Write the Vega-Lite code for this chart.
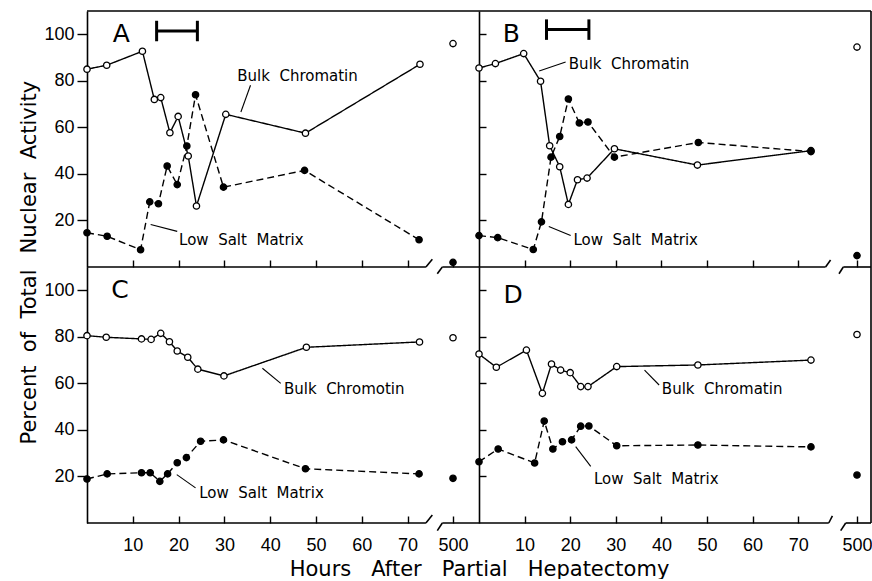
{
  "$schema": "https://vega.github.io/schema/vega-lite/v6.json",
  "background": "white",
  "padding": {"left": 18, "top": 10, "right": 0, "bottom": 0},
  "config": {
    "font": "DejaVu Sans",
    "view": {"stroke": null},
    "axis": {
      "domainColor": "black", "domainWidth": 1.6,
      "tickColor": "black", "tickWidth": 1.4,
      "labelColor": "black", "titleColor": "black",
      "labelFont": "Liberation Sans", "labelFontSize": 18,
      "titleFont": "DejaVu Sans", "titleFontWeight": "normal",
      "grid": false, "labelOverlap": false, "labelFlush": false
    }
  },
  "datasets": {
    "points": [
      {"panel": "A", "series": "Bulk Chromatin", "hour": 0, "value": 85},
      {"panel": "A", "series": "Bulk Chromatin", "hour": 4.3, "value": 86.7},
      {"panel": "A", "series": "Bulk Chromatin", "hour": 12.1, "value": 92.7},
      {"panel": "A", "series": "Bulk Chromatin", "hour": 14.7, "value": 72},
      {"panel": "A", "series": "Bulk Chromatin", "hour": 16.1, "value": 72.8},
      {"panel": "A", "series": "Bulk Chromatin", "hour": 18.1, "value": 57.7},
      {"panel": "A", "series": "Bulk Chromatin", "hour": 19.9, "value": 64.7},
      {"panel": "A", "series": "Bulk Chromatin", "hour": 22.1, "value": 47.7},
      {"panel": "A", "series": "Bulk Chromatin", "hour": 23.9, "value": 26.2},
      {"panel": "A", "series": "Bulk Chromatin", "hour": 30.3, "value": 65.6},
      {"panel": "A", "series": "Bulk Chromatin", "hour": 47.7, "value": 57.5},
      {"panel": "A", "series": "Bulk Chromatin", "hour": 72.7, "value": 87.1},
      {"panel": "A", "series": "Bulk Chromatin", "hour": 500, "value": 96},
      {"panel": "A", "series": "Low Salt Matrix", "hour": 0, "value": 14.7},
      {"panel": "A", "series": "Low Salt Matrix", "hour": 4.4, "value": 13.2},
      {"panel": "A", "series": "Low Salt Matrix", "hour": 11.7, "value": 7.4},
      {"panel": "A", "series": "Low Salt Matrix", "hour": 13.7, "value": 28},
      {"panel": "A", "series": "Low Salt Matrix", "hour": 15.6, "value": 27.2},
      {"panel": "A", "series": "Low Salt Matrix", "hour": 17.5, "value": 43.4},
      {"panel": "A", "series": "Low Salt Matrix", "hour": 19.7, "value": 35.4},
      {"panel": "A", "series": "Low Salt Matrix", "hour": 21.8, "value": 52},
      {"panel": "A", "series": "Low Salt Matrix", "hour": 23.7, "value": 74},
      {"panel": "A", "series": "Low Salt Matrix", "hour": 29.8, "value": 34.3},
      {"panel": "A", "series": "Low Salt Matrix", "hour": 47.5, "value": 41.5},
      {"panel": "A", "series": "Low Salt Matrix", "hour": 72.5, "value": 11.7},
      {"panel": "A", "series": "Low Salt Matrix", "hour": 500, "value": 2},
      {"panel": "B", "series": "Bulk Chromatin", "hour": 0, "value": 85.5},
      {"panel": "B", "series": "Bulk Chromatin", "hour": 3.6, "value": 87.4},
      {"panel": "B", "series": "Bulk Chromatin", "hour": 9.8, "value": 91.7},
      {"panel": "B", "series": "Bulk Chromatin", "hour": 13.5, "value": 79.8},
      {"panel": "B", "series": "Bulk Chromatin", "hour": 15.5, "value": 52.1},
      {"panel": "B", "series": "Bulk Chromatin", "hour": 17.7, "value": 43.1},
      {"panel": "B", "series": "Bulk Chromatin", "hour": 19.6, "value": 26.9},
      {"panel": "B", "series": "Bulk Chromatin", "hour": 21.6, "value": 37.5},
      {"panel": "B", "series": "Bulk Chromatin", "hour": 23.7, "value": 38.2},
      {"panel": "B", "series": "Bulk Chromatin", "hour": 29.7, "value": 50.8},
      {"panel": "B", "series": "Bulk Chromatin", "hour": 47.9, "value": 43.8},
      {"panel": "B", "series": "Bulk Chromatin", "hour": 72.8, "value": 50},
      {"panel": "B", "series": "Bulk Chromatin", "hour": 500, "value": 94.5},
      {"panel": "B", "series": "Low Salt Matrix", "hour": 0, "value": 13.5},
      {"panel": "B", "series": "Low Salt Matrix", "hour": 4.1, "value": 12.6},
      {"panel": "B", "series": "Low Salt Matrix", "hour": 11.9, "value": 7.5},
      {"panel": "B", "series": "Low Salt Matrix", "hour": 13.7, "value": 19.4},
      {"panel": "B", "series": "Low Salt Matrix", "hour": 15.8, "value": 47.2},
      {"panel": "B", "series": "Low Salt Matrix", "hour": 17.7, "value": 56.1},
      {"panel": "B", "series": "Low Salt Matrix", "hour": 19.6, "value": 72.2},
      {"panel": "B", "series": "Low Salt Matrix", "hour": 22, "value": 61.9},
      {"panel": "B", "series": "Low Salt Matrix", "hour": 23.9, "value": 62.3},
      {"panel": "B", "series": "Low Salt Matrix", "hour": 29.7, "value": 47.2},
      {"panel": "B", "series": "Low Salt Matrix", "hour": 48.1, "value": 53.5},
      {"panel": "B", "series": "Low Salt Matrix", "hour": 72.8, "value": 49.6},
      {"panel": "B", "series": "Low Salt Matrix", "hour": 500, "value": 4.9},
      {"panel": "C", "series": "Bulk Chromatin", "hour": 0, "value": 80.5},
      {"panel": "C", "series": "Bulk Chromatin", "hour": 4.2, "value": 79.8},
      {"panel": "C", "series": "Bulk Chromatin", "hour": 11.9, "value": 79.1},
      {"panel": "C", "series": "Bulk Chromatin", "hour": 14, "value": 78.9},
      {"panel": "C", "series": "Bulk Chromatin", "hour": 16.1, "value": 81.5},
      {"panel": "C", "series": "Bulk Chromatin", "hour": 18, "value": 77.9},
      {"panel": "C", "series": "Bulk Chromatin", "hour": 19.7, "value": 73.9},
      {"panel": "C", "series": "Bulk Chromatin", "hour": 22, "value": 71.2},
      {"panel": "C", "series": "Bulk Chromatin", "hour": 24.2, "value": 66.1},
      {"panel": "C", "series": "Bulk Chromatin", "hour": 29.9, "value": 63.2},
      {"panel": "C", "series": "Bulk Chromatin", "hour": 47.9, "value": 75.5},
      {"panel": "C", "series": "Bulk Chromatin", "hour": 72.6, "value": 77.8},
      {"panel": "C", "series": "Bulk Chromatin", "hour": 500, "value": 79.6},
      {"panel": "C", "series": "Low Salt Matrix", "hour": 0, "value": 18.9},
      {"panel": "C", "series": "Low Salt Matrix", "hour": 4.4, "value": 21.1},
      {"panel": "C", "series": "Low Salt Matrix", "hour": 11.9, "value": 21.6},
      {"panel": "C", "series": "Low Salt Matrix", "hour": 13.8, "value": 21.6},
      {"panel": "C", "series": "Low Salt Matrix", "hour": 15.9, "value": 17.9},
      {"panel": "C", "series": "Low Salt Matrix", "hour": 17.6, "value": 21.1},
      {"panel": "C", "series": "Low Salt Matrix", "hour": 19.7, "value": 25.9},
      {"panel": "C", "series": "Low Salt Matrix", "hour": 21.7, "value": 28.1},
      {"panel": "C", "series": "Low Salt Matrix", "hour": 24.8, "value": 35.1},
      {"panel": "C", "series": "Low Salt Matrix", "hour": 29.8, "value": 35.7},
      {"panel": "C", "series": "Low Salt Matrix", "hour": 47.7, "value": 23.3},
      {"panel": "C", "series": "Low Salt Matrix", "hour": 72.5, "value": 21.1},
      {"panel": "C", "series": "Low Salt Matrix", "hour": 500, "value": 19.2},
      {"panel": "D", "series": "Bulk Chromatin", "hour": 0, "value": 72.6},
      {"panel": "D", "series": "Bulk Chromatin", "hour": 3.8, "value": 66.9},
      {"panel": "D", "series": "Bulk Chromatin", "hour": 10.4, "value": 74.3},
      {"panel": "D", "series": "Bulk Chromatin", "hour": 13.9, "value": 55.7},
      {"panel": "D", "series": "Bulk Chromatin", "hour": 15.9, "value": 68.3},
      {"panel": "D", "series": "Bulk Chromatin", "hour": 17.9, "value": 65.7},
      {"panel": "D", "series": "Bulk Chromatin", "hour": 20, "value": 64.6},
      {"panel": "D", "series": "Bulk Chromatin", "hour": 22.3, "value": 58.6},
      {"panel": "D", "series": "Bulk Chromatin", "hour": 23.9, "value": 58.6},
      {"panel": "D", "series": "Bulk Chromatin", "hour": 30.2, "value": 67.2},
      {"panel": "D", "series": "Bulk Chromatin", "hour": 48, "value": 67.9},
      {"panel": "D", "series": "Bulk Chromatin", "hour": 72.8, "value": 70},
      {"panel": "D", "series": "Bulk Chromatin", "hour": 500, "value": 81},
      {"panel": "D", "series": "Low Salt Matrix", "hour": 0, "value": 26.3},
      {"panel": "D", "series": "Low Salt Matrix", "hour": 4.2, "value": 31.8},
      {"panel": "D", "series": "Low Salt Matrix", "hour": 12.2, "value": 25.8},
      {"panel": "D", "series": "Low Salt Matrix", "hour": 14.3, "value": 43.8},
      {"panel": "D", "series": "Low Salt Matrix", "hour": 16.2, "value": 31.8},
      {"panel": "D", "series": "Low Salt Matrix", "hour": 18.3, "value": 34.9},
      {"panel": "D", "series": "Low Salt Matrix", "hour": 20.3, "value": 35.7},
      {"panel": "D", "series": "Low Salt Matrix", "hour": 22.3, "value": 41.6},
      {"panel": "D", "series": "Low Salt Matrix", "hour": 24.1, "value": 41.7},
      {"panel": "D", "series": "Low Salt Matrix", "hour": 30.2, "value": 33.2},
      {"panel": "D", "series": "Low Salt Matrix", "hour": 48, "value": 33.5},
      {"panel": "D", "series": "Low Salt Matrix", "hour": 72.8, "value": 32.7},
      {"panel": "D", "series": "Low Salt Matrix", "hour": 500, "value": 20.6}
    ],
    "labels": [
      {"panel": "A", "text": "Bulk\u00a0\u00a0Chromatin", "hour": 32.8, "value": 81.9},
      {"panel": "A", "text": "Low\u00a0\u00a0Salt\u00a0\u00a0Matrix", "hour": 20.1, "value": 11.7},
      {"panel": "B", "text": "Bulk\u00a0\u00a0Chromatin", "hour": 19.7, "value": 87.4},
      {"panel": "B", "text": "Low\u00a0\u00a0Salt\u00a0\u00a0Matrix", "hour": 20.7, "value": 11.8},
      {"panel": "C", "text": "Bulk\u00a0\u00a0Chromotin", "hour": 43, "value": 57.5},
      {"panel": "C", "text": "Low\u00a0\u00a0Salt\u00a0\u00a0Matrix", "hour": 24.5, "value": 13},
      {"panel": "D", "text": "Bulk\u00a0\u00a0Chromatin", "hour": 40.1, "value": 57.6},
      {"panel": "D", "text": "Low\u00a0\u00a0Salt\u00a0\u00a0Matrix", "hour": 25.2, "value": 18.8}
    ],
    "leaders": [
      {"panel": "A", "hour": 35.7, "value": 78.1, "hour2": 33.6, "value2": 66.6},
      {"panel": "A", "hour": 13.9, "value": 18.3, "hour2": 19.7, "value2": 15.3},
      {"panel": "B", "hour": 19.0, "value": 88.1, "hour2": 13.2, "value2": 84.2},
      {"panel": "B", "hour": 15.3, "value": 17.4, "hour2": 20.1, "value2": 13.5},
      {"panel": "C", "hour": 38.3, "value": 66.5, "hour2": 42.3, "value2": 60.0},
      {"panel": "C", "hour": 19.6, "value": 20.8, "hour2": 23.7, "value2": 15.1},
      {"panel": "D", "hour": 36.3, "value": 65.7, "hour2": 39.5, "value2": 59.3},
      {"panel": "D", "hour": 21.2, "value": 32.8, "hour2": 24.5, "value2": 24.3}
    ],
    "letters": [
      {"panel": "A", "letter": "A", "hour": 7.5, "value": 100},
      {"panel": "B", "letter": "B", "hour": 7.1, "value": 100},
      {"panel": "C", "letter": "C", "hour": 7.2, "value": 100},
      {"panel": "D", "letter": "D", "hour": 7.5, "value": 98}
    ],
    "bars": [
      {"panel": "A", "hour": 15.2, "value": 101.4, "hour2": 24.1, "value2": 101.4},
      {"panel": "A", "hour": 15.2, "value": 97, "hour2": 15.2, "value2": 105.8},
      {"panel": "A", "hour": 24.1, "value": 97, "hour2": 24.1, "value2": 105.8},
      {"panel": "B", "hour": 14.8, "value": 102, "hour2": 24.1, "value2": 102},
      {"panel": "B", "hour": 14.8, "value": 97.6, "hour2": 14.8, "value2": 106.4},
      {"panel": "B", "hour": 24.1, "value": 97.6, "hour2": 24.1, "value2": 106.4}
    ],
    "frame": [
      {"panel": "A", "hour": 0, "value": 110, "hour2": 526, "value2": 110},
      {"panel": "A", "hour": 0, "value": 0, "hour2": 74, "value2": 0},
      {"panel": "A", "hour": 74, "value": 0, "hour2": 75.4, "value2": 3.3},
      {"panel": "A", "hour": 484.3, "value": -2.9, "hour2": 489.3, "value2": 0},
      {"panel": "A", "hour": 489.3, "value": 0, "hour2": 526, "value2": 0},
      {"panel": "B", "hour": 0, "value": 110, "hour2": 514, "value2": 110},
      {"panel": "B", "hour": 514, "value": 0, "hour2": 514, "value2": 110},
      {"panel": "B", "hour": 0, "value": 0, "hour2": 76, "value2": 0},
      {"panel": "B", "hour": 76, "value": 0, "hour2": 77.1, "value2": 3},
      {"panel": "B", "hour": 482, "value": -2.9, "hour2": 486.3, "value2": 0},
      {"panel": "B", "hour": 486.3, "value": 0, "hour2": 514, "value2": 0},
      {"panel": "C", "hour": 0, "value": 0, "hour2": 74, "value2": 0},
      {"panel": "C", "hour": 74, "value": 0, "hour2": 75.4, "value2": 3.4},
      {"panel": "C", "hour": 484.3, "value": -3.3, "hour2": 489.3, "value2": 0},
      {"panel": "C", "hour": 489.3, "value": 0, "hour2": 526, "value2": 0},
      {"panel": "D", "hour": 514, "value": 0, "hour2": 514, "value2": 110},
      {"panel": "D", "hour": 0, "value": 0, "hour2": 76.7, "value2": 0},
      {"panel": "D", "hour": 76.7, "value": 0, "hour2": 77.5, "value2": 3.1},
      {"panel": "D", "hour": 483.7, "value": -3.3, "hour2": 488.7, "value2": 0},
      {"panel": "D", "hour": 488.7, "value": 0, "hour2": 514, "value2": 0}
    ]
  },
  "columns": 2,
  "spacing": 0,
  "bounds": "flush",
  "align": "all",
  "resolve": {"scale": {"x": "independent", "y": "independent"}},
  "concat": [
    {
      "width": 392, "height": 256,
      "encoding": {
        "x": {"field": "hour", "type": "quantitative",
              "scale": {"domain": [0, 75.5, 484, 526], "range": [0, 345.8, 350, 392], "nice": false, "zero": false},
              "axis": {"values": [10, 20, 30, 40, 50, 60, 70, 500], "tickSize": -7, "labels": false, "domain": false, "title": null}},
        "y": {"field": "value", "type": "quantitative",
              "scale": {"domain": [0, 110], "nice": false, "zero": false},
              "axis": {"values": [20, 40, 60, 80, 100], "tickSize": 10, "labelPadding": 3, "title": "Nuclear\u00a0\u00a0Activity", "titleFontSize": 21, "titlePadding": 4, "titleAlign": "left", "titleY": 242}}
      },
      "layer": [
        {"data": {"name": "frame"}, "transform": [{"filter": "datum.panel === 'A'"}], "mark": {"type": "rule", "color": "black", "strokeWidth": 1.6}, "encoding": {"x2": {"field": "hour2"}, "y2": {"field": "value2"}}},
        {"data": {"name": "bars"}, "transform": [{"filter": "datum.panel === 'A'"}], "mark": {"type": "rule", "color": "black", "strokeWidth": 3}, "encoding": {"x2": {"field": "hour2"}, "y2": {"field": "value2"}}},
        {"data": {"name": "leaders"}, "transform": [{"filter": "datum.panel === 'A'"}], "mark": {"type": "rule", "color": "black", "strokeWidth": 1.1}, "encoding": {"x2": {"field": "hour2"}, "y2": {"field": "value2"}}},
        {"data": {"name": "points"}, "transform": [{"filter": "datum.panel === 'A' && datum.hour < 100"}], "mark": {"type": "line", "color": "black", "strokeWidth": 1.4},
         "encoding": {"strokeDash": {"field": "series", "type": "nominal", "scale": {"domain": ["Bulk Chromatin", "Low Salt Matrix"], "range": [[1, 0], [7, 4]]}, "legend": null}}},
        {"data": {"name": "points"}, "transform": [{"filter": "datum.panel === 'A'"}], "mark": {"type": "point", "shape": "circle", "filled": true, "stroke": "black", "strokeWidth": 1.3, "size": 40, "opacity": 1},
         "encoding": {"fill": {"field": "series", "type": "nominal", "scale": {"domain": ["Bulk Chromatin", "Low Salt Matrix"], "range": ["white", "black"]}, "legend": null}}},
        {"data": {"name": "labels"}, "transform": [{"filter": "datum.panel === 'A'"}], "mark": {"type": "text", "align": "left", "baseline": "middle", "fontSize": 15, "font": "DejaVu Sans", "color": "black"}, "encoding": {"text": {"field": "text"}}},
        {"data": {"name": "letters"}, "transform": [{"filter": "datum.panel === 'A'"}], "mark": {"type": "text", "align": "center", "baseline": "middle", "fontSize": 25, "font": "DejaVu Sans", "color": "black"}, "encoding": {"text": {"field": "letter"}}}
      ]
    },
    {
      "width": 392, "height": 256,
      "encoding": {
        "x": {"field": "hour", "type": "quantitative",
              "scale": {"domain": [0, 77.5, 478, 514], "range": [0, 353.4, 356, 392], "nice": false, "zero": false},
              "axis": {"values": [10, 20, 30, 40, 50, 60, 70, 500], "tickSize": -7, "labels": false, "domain": false, "title": null}},
        "y": {"field": "value", "type": "quantitative",
              "scale": {"domain": [0, 110], "nice": false, "zero": false},
              "axis": {"values": [20, 40, 60, 80, 100], "tickSize": -7, "labels": false, "title": null}}
      },
      "layer": [
        {"data": {"name": "frame"}, "transform": [{"filter": "datum.panel === 'B'"}], "mark": {"type": "rule", "color": "black", "strokeWidth": 1.6}, "encoding": {"x2": {"field": "hour2"}, "y2": {"field": "value2"}}},
        {"data": {"name": "bars"}, "transform": [{"filter": "datum.panel === 'B'"}], "mark": {"type": "rule", "color": "black", "strokeWidth": 3}, "encoding": {"x2": {"field": "hour2"}, "y2": {"field": "value2"}}},
        {"data": {"name": "leaders"}, "transform": [{"filter": "datum.panel === 'B'"}], "mark": {"type": "rule", "color": "black", "strokeWidth": 1.1}, "encoding": {"x2": {"field": "hour2"}, "y2": {"field": "value2"}}},
        {"data": {"name": "points"}, "transform": [{"filter": "datum.panel === 'B' && datum.hour < 100"}], "mark": {"type": "line", "color": "black", "strokeWidth": 1.4},
         "encoding": {"strokeDash": {"field": "series", "type": "nominal", "scale": {"domain": ["Bulk Chromatin", "Low Salt Matrix"], "range": [[1, 0], [7, 4]]}, "legend": null}}},
        {"data": {"name": "points"}, "transform": [{"filter": "datum.panel === 'B'"}], "mark": {"type": "point", "shape": "circle", "filled": true, "stroke": "black", "strokeWidth": 1.3, "size": 40, "opacity": 1},
         "encoding": {"fill": {"field": "series", "type": "nominal", "scale": {"domain": ["Bulk Chromatin", "Low Salt Matrix"], "range": ["white", "black"]}, "legend": null}}},
        {"data": {"name": "labels"}, "transform": [{"filter": "datum.panel === 'B'"}], "mark": {"type": "text", "align": "left", "baseline": "middle", "fontSize": 15, "font": "DejaVu Sans", "color": "black"}, "encoding": {"text": {"field": "text"}}},
        {"data": {"name": "letters"}, "transform": [{"filter": "datum.panel === 'B'"}], "mark": {"type": "text", "align": "center", "baseline": "middle", "fontSize": 25, "font": "DejaVu Sans", "color": "black"}, "encoding": {"text": {"field": "letter"}}}
      ]
    },
    {
      "width": 392, "height": 256,
      "encoding": {
        "x": {"field": "hour", "type": "quantitative",
              "scale": {"domain": [0, 75.5, 484, 526], "range": [0, 345.8, 350, 392], "nice": false, "zero": false},
              "axis": {"values": [10, 20, 30, 40, 50, 60, 70, 500], "tickSize": -7, "labelPadding": 20, "domain": false,
                       "title": "Hours\u00a0\u00a0\u00a0After\u00a0\u00a0\u00a0Partial\u00a0\u00a0\u00a0Hepatectomy", "titleFontSize": 21, "titleX": 392, "titlePadding": 4}},
        "y": {"field": "value", "type": "quantitative",
              "scale": {"domain": [0, 110], "nice": false, "zero": false},
              "axis": {"values": [20, 40, 60, 80, 100], "tickSize": 10, "labelPadding": 3, "title": "Percent\u00a0\u00a0of\u00a0\u00a0Total", "titleFontSize": 21, "titlePadding": 4, "titleAlign": "right", "titleY": 2}}
      },
      "layer": [
        {"data": {"name": "frame"}, "transform": [{"filter": "datum.panel === 'C'"}], "mark": {"type": "rule", "color": "black", "strokeWidth": 1.6}, "encoding": {"x2": {"field": "hour2"}, "y2": {"field": "value2"}}},
        {"data": {"name": "leaders"}, "transform": [{"filter": "datum.panel === 'C'"}], "mark": {"type": "rule", "color": "black", "strokeWidth": 1.1}, "encoding": {"x2": {"field": "hour2"}, "y2": {"field": "value2"}}},
        {"data": {"name": "points"}, "transform": [{"filter": "datum.panel === 'C' && datum.hour < 100"}], "mark": {"type": "line", "color": "black", "strokeWidth": 1.4},
         "encoding": {"strokeDash": {"field": "series", "type": "nominal", "scale": {"domain": ["Bulk Chromatin", "Low Salt Matrix"], "range": [[1, 0], [7, 4]]}, "legend": null}}},
        {"data": {"name": "points"}, "transform": [{"filter": "datum.panel === 'C'"}], "mark": {"type": "point", "shape": "circle", "filled": true, "stroke": "black", "strokeWidth": 1.3, "size": 40, "opacity": 1},
         "encoding": {"fill": {"field": "series", "type": "nominal", "scale": {"domain": ["Bulk Chromatin", "Low Salt Matrix"], "range": ["white", "black"]}, "legend": null}}},
        {"data": {"name": "labels"}, "transform": [{"filter": "datum.panel === 'C'"}], "mark": {"type": "text", "align": "left", "baseline": "middle", "fontSize": 15, "font": "DejaVu Sans", "color": "black"}, "encoding": {"text": {"field": "text"}}},
        {"data": {"name": "letters"}, "transform": [{"filter": "datum.panel === 'C'"}], "mark": {"type": "text", "align": "center", "baseline": "middle", "fontSize": 25, "font": "DejaVu Sans", "color": "black"}, "encoding": {"text": {"field": "letter"}}}
      ]
    },
    {
      "width": 392, "height": 256,
      "encoding": {
        "x": {"field": "hour", "type": "quantitative",
              "scale": {"domain": [0, 77.5, 478, 514], "range": [0, 353.4, 356, 392], "nice": false, "zero": false},
              "axis": {"values": [10, 20, 30, 40, 50, 60, 70, 500], "tickSize": -7, "labelPadding": 20, "domain": false, "title": null}},
        "y": {"field": "value", "type": "quantitative",
              "scale": {"domain": [0, 110], "nice": false, "zero": false},
              "axis": {"values": [20, 40, 60, 80, 100], "tickSize": -7, "labels": false, "title": null}}
      },
      "layer": [
        {"data": {"name": "frame"}, "transform": [{"filter": "datum.panel === 'D'"}], "mark": {"type": "rule", "color": "black", "strokeWidth": 1.6}, "encoding": {"x2": {"field": "hour2"}, "y2": {"field": "value2"}}},
        {"data": {"name": "leaders"}, "transform": [{"filter": "datum.panel === 'D'"}], "mark": {"type": "rule", "color": "black", "strokeWidth": 1.1}, "encoding": {"x2": {"field": "hour2"}, "y2": {"field": "value2"}}},
        {"data": {"name": "points"}, "transform": [{"filter": "datum.panel === 'D' && datum.hour < 100"}], "mark": {"type": "line", "color": "black", "strokeWidth": 1.4},
         "encoding": {"strokeDash": {"field": "series", "type": "nominal", "scale": {"domain": ["Bulk Chromatin", "Low Salt Matrix"], "range": [[1, 0], [7, 4]]}, "legend": null}}},
        {"data": {"name": "points"}, "transform": [{"filter": "datum.panel === 'D'"}], "mark": {"type": "point", "shape": "circle", "filled": true, "stroke": "black", "strokeWidth": 1.3, "size": 40, "opacity": 1},
         "encoding": {"fill": {"field": "series", "type": "nominal", "scale": {"domain": ["Bulk Chromatin", "Low Salt Matrix"], "range": ["white", "black"]}, "legend": null}}},
        {"data": {"name": "labels"}, "transform": [{"filter": "datum.panel === 'D'"}], "mark": {"type": "text", "align": "left", "baseline": "middle", "fontSize": 15, "font": "DejaVu Sans", "color": "black"}, "encoding": {"text": {"field": "text"}}},
        {"data": {"name": "letters"}, "transform": [{"filter": "datum.panel === 'D'"}], "mark": {"type": "text", "align": "center", "baseline": "middle", "fontSize": 25, "font": "DejaVu Sans", "color": "black"}, "encoding": {"text": {"field": "letter"}}}
      ]
    }
  ]
}
